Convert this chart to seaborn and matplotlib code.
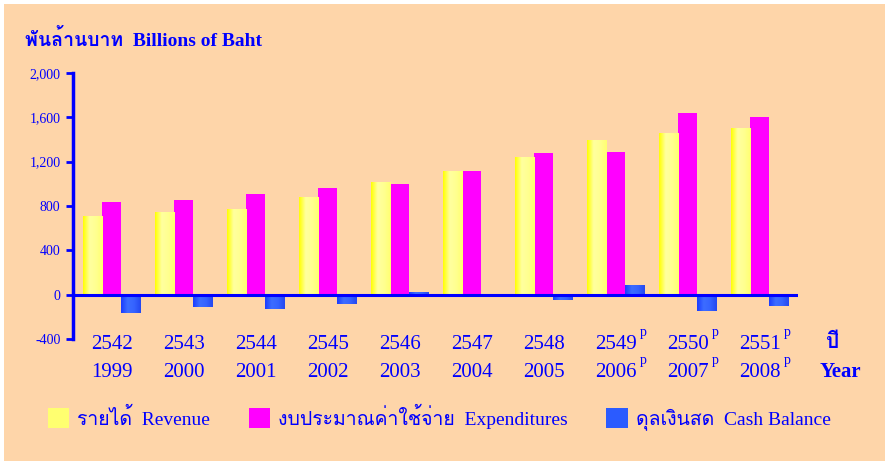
import numpy as np
import pandas as pd
import seaborn as sns
import matplotlib
matplotlib.use("Agg")
import matplotlib.pyplot as plt
from matplotlib import font_manager
from matplotlib.ft2font import FT2Font
from matplotlib.patches import Rectangle
from matplotlib.colors import LinearSegmentedColormap

# ดุลการคลัง ปีงบประมาณ 2542-2551

years_be = ["2542", "2543", "2544", "2545", "2546", "2547", "2548", "2549", "2550", "2551"]
years_ad = ["1999", "2000", "2001", "2002", "2003", "2004", "2005", "2006", "2007", "2008"]
preliminary = [False, False, False, False, False, False, False, True, True, True]

revenue = [711, 748, 775, 883, 1018, 1117, 1243, 1396, 1459, 1504]
expenditures = [838, 856, 910, 964, 1000, 1115, 1279, 1288, 1640, 1604]
cash_balance = [-168, -114, -132, -87, 27, 2, -51, 90, -150, -105]

series_names = ["รายได้  Revenue", "งบประมาณค่าใช้จ่าย  Expenditures", "ดุลเงินสด  Cash Balance"]

BLUE = "#0000FF"
PEACH = "#FED5A9"


def find_thai_font():
    for f in font_manager.fontManager.ttflist:
        try:
            if ord("ก") in FT2Font(f.fname).get_charmap():
                return f.name
        except Exception:
            pass
    return "DejaVu Sans"


thai_font = find_thai_font()

df = pd.DataFrame({
    "year": years_be * 3,
    "series": np.repeat(series_names, len(years_be)),
    "value": revenue + expenditures + cash_balance,
})

sns.set_theme(style="white")
plt.rcParams["font.family"] = ["Liberation Serif", thai_font]

fig = plt.figure(figsize=(8.87, 4.61), dpi=100, facecolor="white")
fig.patches.append(Rectangle((4 / 887, 0), 881 / 887, 457 / 461, transform=fig.transFigure,
                             facecolor=PEACH, edgecolor="none", zorder=-10))
ax = fig.add_axes([73 / 887, 122 / 461, 725 / 887, 266 / 461])
ax.set_facecolor("none")

sns.barplot(data=df, x="year", y="value", hue="series", hue_order=series_names,
            palette=["#FFFF66", "#FF00FF", "#2B5BFF"], saturation=1, width=0.8,
            linewidth=0, legend=False, ax=ax)

# gradient fill for revenue and cash bars
grad = np.linspace(0, 1, 64).reshape(1, -1)
shades = {
    0: LinearSegmentedColormap.from_list("rev", ["#FFFF00", "#FFFFA0", "#FFFF90", "#FFFF70"]),
    2: LinearSegmentedColormap.from_list("cash", ["#1A3CFF", "#3D6DFF", "#3563FF", "#2448F0"]),
}
for idx, cmap in shades.items():
    for bar in ax.containers[idx]:
        x0, y0 = bar.get_x(), bar.get_y()
        ax.imshow(grad, extent=(x0, x0 + bar.get_width(), y0, y0 + bar.get_height()),
                  cmap=cmap, aspect="auto", interpolation="bicubic", zorder=bar.get_zorder() + 0.1)

ax.axhline(0, color=BLUE, lw=2.2, zorder=5)
ax.set_xlim(-0.54, 9.53)
ax.set_ylim(-400, 2000)

for side in ["top", "right", "bottom"]:
    ax.spines[side].set_visible(False)
ax.spines["left"].set_color(BLUE)
ax.spines["left"].set_linewidth(2.5)

ax.set_yticks(range(-400, 2001, 400))
ax.set_yticklabels([f"{v:,}" for v in range(-400, 2001, 400)])
ax.tick_params(axis="y", direction="out", length=5, width=2, color=BLUE,
               labelcolor=BLUE, labelsize=10, pad=4, left=True)

ax.set_xticks(range(len(years_be)))
ax.set_xticklabels([f"{b}\n{a}" for b, a in zip(years_be, years_ad)], linespacing=1.65)
ax.tick_params(axis="x", length=0, labelcolor=BLUE, labelsize=15, pad=-3)
ax.set_xlabel("")
ax.set_ylabel("")

for i, p in enumerate(preliminary):
    if p:
        for dy in (4.5, -15.5):
            ax.annotate("p", xy=(i, 0), xycoords=("data", "axes fraction"), xytext=(20, dy),
                        textcoords="offset points", ha="center", va="center",
                        fontsize=10, color=BLUE)

fig.text(25 / 887, 1 - 40 / 461, "พันล้านบาท  Billions of Baht", color=BLUE,
         fontsize=14, fontweight="bold", va="center", ha="left")
fig.text(833 / 887, 1 - 343 / 461, "ปี", color=BLUE, fontsize=15, fontweight="bold",
         ha="center", va="center")
fig.text(840 / 887, 1 - 372 / 461, "Year", color=BLUE, fontsize=15, fontweight="bold",
         ha="center", va="center")

handles = [Rectangle((0, 0), 1, 1, facecolor=c, edgecolor="none")
           for c in ["#FFFF70", "#FF00FF", "#2B5BFF"]]
fig.legend(handles, series_names, loc="center", bbox_to_anchor=(0.495, 1 - 417 / 461),
           ncol=3, frameon=False, fontsize=14, handlelength=1.1, handleheight=1.2,
           handletextpad=0.4, columnspacing=2.0, labelcolor=BLUE)

fig.savefig("out.png", dpi=100, facecolor=fig.get_facecolor())
